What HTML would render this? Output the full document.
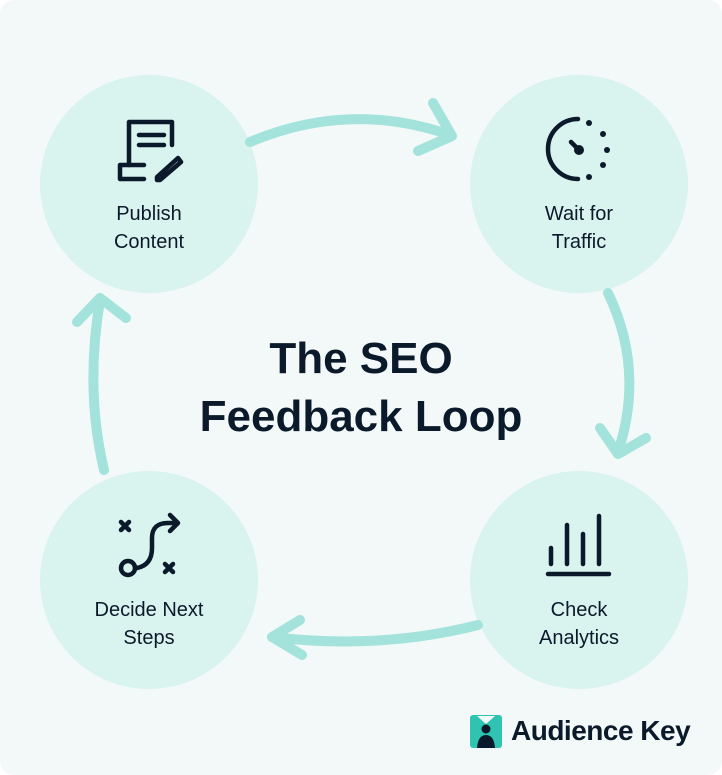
<!DOCTYPE html>
<html><head><meta charset="utf-8"><style>
html,body{margin:0;padding:0;background:#fff}
.c{position:relative;width:722px;height:775px;background:#f3f9f9;border-radius:14px;overflow:hidden;font-family:"Liberation Sans",sans-serif;color:#0b1a2a}
.t{position:absolute;text-align:center;font-size:20px;line-height:28px;font-weight:500;width:220px}
</style></head><body><div class="c">
<svg width="722" height="775" style="position:absolute;left:0;top:0">
<g fill="#d9f3ef">
<circle cx="149" cy="184" r="109"/><circle cx="579" cy="184" r="109"/>
<circle cx="149" cy="580" r="109"/><circle cx="579" cy="580" r="109"/>
</g>
<g fill="none" stroke="#a3e3dc" stroke-width="10" stroke-linecap="round" stroke-linejoin="round">
<path d="M250 142 Q350 100 450 135"/><path d="M433 103 L452 136 L418 151"/>
<path d="M608 293 Q645 370 618 452"/><path d="M600 428 L618 454 L646 438"/>
<path d="M478 625 Q380 650 272 637"/><path d="M300 620 L272 637 L302 655"/>
<path d="M104 470 Q85 390 100 300"/><path d="M77 322 L100 298 L126 318"/>
</g>
<g fill="none" stroke="#0b1a2a" stroke-width="4.5" stroke-linecap="round" stroke-linejoin="round">
<path d="M129 165 V122 H172 V145"/><path d="M139 135 H164 M139 145 H164"/>
<path d="M144 165 H120 V179 H144"/><path d="M157 177 L178 158 L181 162 L160 180 H157 Z"/>
<path d="M578 119 A27 27 0 0 0 578 179"/><path d="M571 142 L578 149"/>
<path d="M121 522 l8 8 m0 -8 l-8 8 M165 564 l8 8 m0 -8 l-8 8"/>
<path d="M137 568 Q152 565 152 548 V538 Q152 523 168 523 H177 M170 515 L178 523 L170 531"/>
<path d="M551 548 V564 M567 525 V564 M583 534 V564 M599 516 V564 M548 574 H609"/>
</g>
<circle cx="128" cy="568" r="7" fill="none" stroke="#0b1a2a" stroke-width="4.5"/>
<g fill="#0b1a2a"><circle cx="579" cy="150" r="5"/><circle cx="589" cy="123" r="3"/><circle cx="603" cy="134" r="3"/><circle cx="607" cy="150" r="3"/><circle cx="603" cy="165" r="3"/><circle cx="589" cy="177" r="3"/></g>
<rect x="470" y="715" width="32" height="33" rx="3" fill="#2fc4b2"/>
<path d="M477 748 Q478 735 486 735 Q494 735 495 748 Z" fill="#0b1a2a"/>
<circle cx="486" cy="729" r="4.5" fill="#0b1a2a"/>
<path d="M477 716 L486 724 L495 716 Z" fill="#f3f9f9"/>
</svg>
<div class="t" style="left:39px;top:200px">Publish<br>Content</div>
<div class="t" style="left:469px;top:200px">Wait for<br>Traffic</div>
<div class="t" style="left:39px;top:596px">Decide Next<br>Steps</div>
<div class="t" style="left:469px;top:596px">Check<br>Analytics</div>
<div style="position:absolute;left:161px;top:330px;width:400px;text-align:center;font-size:44px;line-height:58px;font-weight:bold">The SEO<br>Feedback Loop</div>
<div style="position:absolute;left:511px;top:713px;font-size:28px;font-weight:bold;line-height:36px;letter-spacing:-0.5px">Audience Key</div>
</div></body></html>
